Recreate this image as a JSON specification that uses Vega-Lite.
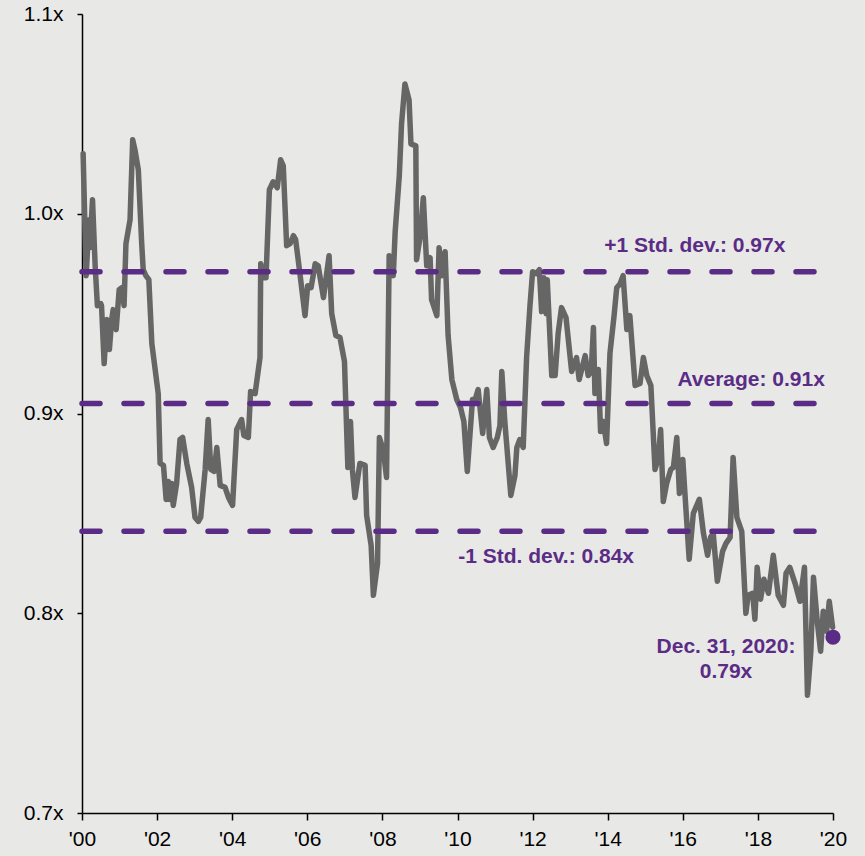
{
  "$schema": "https://vega.github.io/schema/vega-lite/v6.json",
  "width": 751,
  "height": 799,
  "autosize": {"type": "none"},
  "padding": {"left": 82, "top": 14, "right": 32, "bottom": 43},
  "background": "#e8e8e6",
  "config": {"view": {"stroke": null}, "font": "Liberation Sans"},
  "datasets": {
    "series": [
      {"t": 2000.03, "v": 1.030}, {"t": 2000.11, "v": 0.969}, {"t": 2000.19, "v": 0.997}, {"t": 2000.21, "v": 0.983},
      {"t": 2000.28, "v": 1.007}, {"t": 2000.35, "v": 0.974}, {"t": 2000.41, "v": 0.954}, {"t": 2000.50, "v": 0.955},
      {"t": 2000.52, "v": 0.954}, {"t": 2000.59, "v": 0.925}, {"t": 2000.66, "v": 0.947}, {"t": 2000.73, "v": 0.932},
      {"t": 2000.79, "v": 0.947}, {"t": 2000.83, "v": 0.952}, {"t": 2000.91, "v": 0.942}, {"t": 2000.99, "v": 0.962},
      {"t": 2001.06, "v": 0.963}, {"t": 2001.12, "v": 0.954}, {"t": 2001.17, "v": 0.985}, {"t": 2001.28, "v": 0.997},
      {"t": 2001.35, "v": 1.037}, {"t": 2001.41, "v": 1.032}, {"t": 2001.50, "v": 1.022}, {"t": 2001.59, "v": 0.985},
      {"t": 2001.63, "v": 0.972}, {"t": 2001.70, "v": 0.969}, {"t": 2001.78, "v": 0.967}, {"t": 2001.86, "v": 0.935},
      {"t": 2002.03, "v": 0.910}, {"t": 2002.08, "v": 0.875}, {"t": 2002.17, "v": 0.874}, {"t": 2002.24, "v": 0.857},
      {"t": 2002.30, "v": 0.866}, {"t": 2002.34, "v": 0.857}, {"t": 2002.39, "v": 0.865}, {"t": 2002.43, "v": 0.854},
      {"t": 2002.52, "v": 0.865}, {"t": 2002.61, "v": 0.887}, {"t": 2002.68, "v": 0.888}, {"t": 2002.79, "v": 0.875},
      {"t": 2002.92, "v": 0.863}, {"t": 2003.01, "v": 0.848}, {"t": 2003.10, "v": 0.846}, {"t": 2003.16, "v": 0.848},
      {"t": 2003.28, "v": 0.872}, {"t": 2003.36, "v": 0.897}, {"t": 2003.43, "v": 0.872}, {"t": 2003.52, "v": 0.871},
      {"t": 2003.59, "v": 0.883}, {"t": 2003.68, "v": 0.864}, {"t": 2003.81, "v": 0.863}, {"t": 2003.90, "v": 0.858},
      {"t": 2004.01, "v": 0.854}, {"t": 2004.12, "v": 0.892}, {"t": 2004.25, "v": 0.897}, {"t": 2004.31, "v": 0.889},
      {"t": 2004.43, "v": 0.888}, {"t": 2004.49, "v": 0.911}, {"t": 2004.61, "v": 0.910}, {"t": 2004.74, "v": 0.928},
      {"t": 2004.76, "v": 0.975}, {"t": 2004.83, "v": 0.968}, {"t": 2004.90, "v": 0.968}, {"t": 2004.99, "v": 1.012},
      {"t": 2005.09, "v": 1.016}, {"t": 2005.20, "v": 1.013}, {"t": 2005.29, "v": 1.027}, {"t": 2005.36, "v": 1.024},
      {"t": 2005.45, "v": 0.984}, {"t": 2005.54, "v": 0.985}, {"t": 2005.63, "v": 0.989}, {"t": 2005.69, "v": 0.987},
      {"t": 2005.81, "v": 0.969}, {"t": 2005.94, "v": 0.949}, {"t": 2006.01, "v": 0.964}, {"t": 2006.10, "v": 0.963},
      {"t": 2006.21, "v": 0.975}, {"t": 2006.29, "v": 0.974}, {"t": 2006.43, "v": 0.958}, {"t": 2006.58, "v": 0.979},
      {"t": 2006.65, "v": 0.950}, {"t": 2006.76, "v": 0.939}, {"t": 2006.87, "v": 0.938}, {"t": 2006.99, "v": 0.926},
      {"t": 2007.08, "v": 0.873}, {"t": 2007.15, "v": 0.896}, {"t": 2007.20, "v": 0.872}, {"t": 2007.27, "v": 0.858},
      {"t": 2007.40, "v": 0.875}, {"t": 2007.54, "v": 0.874}, {"t": 2007.58, "v": 0.849}, {"t": 2007.70, "v": 0.834},
      {"t": 2007.76, "v": 0.809}, {"t": 2007.87, "v": 0.825}, {"t": 2007.92, "v": 0.888}, {"t": 2008.02, "v": 0.882},
      {"t": 2008.11, "v": 0.868}, {"t": 2008.18, "v": 0.979}, {"t": 2008.29, "v": 0.969}, {"t": 2008.34, "v": 0.991},
      {"t": 2008.45, "v": 1.019}, {"t": 2008.51, "v": 1.045}, {"t": 2008.60, "v": 1.065}, {"t": 2008.71, "v": 1.057},
      {"t": 2008.76, "v": 1.035}, {"t": 2008.89, "v": 1.034}, {"t": 2008.91, "v": 0.977}, {"t": 2009.00, "v": 0.988},
      {"t": 2009.09, "v": 1.008}, {"t": 2009.18, "v": 0.974}, {"t": 2009.27, "v": 0.978}, {"t": 2009.31, "v": 0.957},
      {"t": 2009.45, "v": 0.949}, {"t": 2009.51, "v": 0.983}, {"t": 2009.58, "v": 0.969}, {"t": 2009.67, "v": 0.981},
      {"t": 2009.75, "v": 0.939}, {"t": 2009.85, "v": 0.917}, {"t": 2009.98, "v": 0.907}, {"t": 2010.08, "v": 0.903},
      {"t": 2010.17, "v": 0.896}, {"t": 2010.26, "v": 0.871}, {"t": 2010.40, "v": 0.907}, {"t": 2010.47, "v": 0.907},
      {"t": 2010.55, "v": 0.912}, {"t": 2010.67, "v": 0.890}, {"t": 2010.78, "v": 0.912}, {"t": 2010.85, "v": 0.888},
      {"t": 2010.95, "v": 0.883}, {"t": 2011.06, "v": 0.888}, {"t": 2011.13, "v": 0.894}, {"t": 2011.18, "v": 0.921},
      {"t": 2011.26, "v": 0.896}, {"t": 2011.42, "v": 0.859}, {"t": 2011.53, "v": 0.869}, {"t": 2011.58, "v": 0.883},
      {"t": 2011.66, "v": 0.887}, {"t": 2011.75, "v": 0.883}, {"t": 2011.84, "v": 0.928}, {"t": 2011.93, "v": 0.954},
      {"t": 2012.00, "v": 0.971}, {"t": 2012.09, "v": 0.970}, {"t": 2012.18, "v": 0.972}, {"t": 2012.24, "v": 0.951},
      {"t": 2012.30, "v": 0.968}, {"t": 2012.36, "v": 0.950}, {"t": 2012.39, "v": 0.967}, {"t": 2012.51, "v": 0.919},
      {"t": 2012.60, "v": 0.919}, {"t": 2012.68, "v": 0.940}, {"t": 2012.77, "v": 0.953}, {"t": 2012.89, "v": 0.948},
      {"t": 2013.04, "v": 0.921}, {"t": 2013.17, "v": 0.928}, {"t": 2013.24, "v": 0.917}, {"t": 2013.40, "v": 0.929},
      {"t": 2013.48, "v": 0.919}, {"t": 2013.56, "v": 0.921}, {"t": 2013.62, "v": 0.943}, {"t": 2013.66, "v": 0.910},
      {"t": 2013.75, "v": 0.922}, {"t": 2013.81, "v": 0.891}, {"t": 2013.88, "v": 0.896}, {"t": 2013.97, "v": 0.885},
      {"t": 2014.06, "v": 0.930}, {"t": 2014.17, "v": 0.949}, {"t": 2014.24, "v": 0.963}, {"t": 2014.33, "v": 0.965},
      {"t": 2014.41, "v": 0.969}, {"t": 2014.51, "v": 0.942}, {"t": 2014.59, "v": 0.949}, {"t": 2014.73, "v": 0.914},
      {"t": 2014.86, "v": 0.915}, {"t": 2014.95, "v": 0.928}, {"t": 2015.04, "v": 0.919}, {"t": 2015.15, "v": 0.914},
      {"t": 2015.26, "v": 0.872}, {"t": 2015.35, "v": 0.878}, {"t": 2015.41, "v": 0.892}, {"t": 2015.48, "v": 0.856},
      {"t": 2015.57, "v": 0.865}, {"t": 2015.68, "v": 0.872}, {"t": 2015.75, "v": 0.873}, {"t": 2015.84, "v": 0.888},
      {"t": 2015.91, "v": 0.860}, {"t": 2016.00, "v": 0.877}, {"t": 2016.06, "v": 0.859}, {"t": 2016.17, "v": 0.827},
      {"t": 2016.28, "v": 0.850}, {"t": 2016.44, "v": 0.857}, {"t": 2016.55, "v": 0.840}, {"t": 2016.66, "v": 0.829},
      {"t": 2016.74, "v": 0.838}, {"t": 2016.81, "v": 0.840}, {"t": 2016.92, "v": 0.816}, {"t": 2017.06, "v": 0.831},
      {"t": 2017.15, "v": 0.835}, {"t": 2017.26, "v": 0.838}, {"t": 2017.34, "v": 0.878}, {"t": 2017.44, "v": 0.848},
      {"t": 2017.57, "v": 0.841}, {"t": 2017.68, "v": 0.800}, {"t": 2017.74, "v": 0.809}, {"t": 2017.86, "v": 0.810},
      {"t": 2017.92, "v": 0.797}, {"t": 2017.98, "v": 0.823}, {"t": 2018.07, "v": 0.807}, {"t": 2018.16, "v": 0.817},
      {"t": 2018.28, "v": 0.810}, {"t": 2018.41, "v": 0.829}, {"t": 2018.54, "v": 0.809}, {"t": 2018.68, "v": 0.804},
      {"t": 2018.75, "v": 0.820}, {"t": 2018.85, "v": 0.823}, {"t": 2018.99, "v": 0.815}, {"t": 2019.12, "v": 0.806},
      {"t": 2019.24, "v": 0.823}, {"t": 2019.32, "v": 0.759}, {"t": 2019.41, "v": 0.781}, {"t": 2019.48, "v": 0.818},
      {"t": 2019.58, "v": 0.796}, {"t": 2019.67, "v": 0.781}, {"t": 2019.74, "v": 0.801}, {"t": 2019.80, "v": 0.798},
      {"t": 2019.83, "v": 0.791}, {"t": 2019.90, "v": 0.806}, {"t": 2019.99, "v": 0.793}
    ],
    "levels": [
      {"name": "plus", "v": 0.971, "label": "+1 Std. dev.: 0.97x"},
      {"name": "avg", "v": 0.905, "label": "Average: 0.91x"},
      {"name": "minus", "v": 0.841, "label": "-1 Std. dev.: 0.84x"}
    ],
    "last": [
      {"t": 2020, "v": 0.788, "label": "Dec. 31, 2020:\n0.79x"}
    ]
  },
  "layer": [
    {
      "data": {"name": "series"},
      "mark": {"type": "line", "color": "#666666", "strokeWidth": 5.5, "strokeJoin": "round", "strokeCap": "round"},
      "encoding": {
        "x": {
          "field": "t", "type": "quantitative",
          "scale": {"domain": [2000, 2020], "nice": false, "zero": false},
          "axis": {
            "title": null, "grid": false,
            "values": [2000, 2002, 2004, 2006, 2008, 2010, 2012, 2014, 2016, 2018, 2020],
            "labelExpr": "\"'\" + substring(toString(datum.value), 2, 4)",
            "domainColor": "#000000", "domainWidth": 1.5,
            "tickColor": "#000000", "tickWidth": 1.5, "tickSize": 7,
            "labelFontSize": 21, "labelColor": "#000000", "labelPadding": 8,
            "labelFlush": false, "labelOverlap": false
          }
        },
        "y": {
          "field": "v", "type": "quantitative",
          "scale": {"domain": [0.7, 1.1], "nice": false, "zero": false},
          "axis": {
            "title": null, "grid": false,
            "values": [0.7, 0.8, 0.9, 1.0, 1.1],
            "labelExpr": "format(datum.value, '.1f') + 'x'",
            "domainColor": "#000000", "domainWidth": 1.5,
            "tickColor": "#000000", "tickWidth": 1.5, "tickSize": 5,
            "labelFontSize": 21, "labelColor": "#000000", "labelPadding": 14,
            "labelFlush": false, "labelOverlap": false
          }
        }
      }
    },
    {
      "data": {"name": "levels"},
      "mark": {"type": "rule", "color": "#5b2c86", "strokeWidth": 5.5, "strokeDash": [18, 24], "strokeCap": "round"},
      "encoding": {
        "x": {"datum": 2000},
        "x2": {"datum": 2019.55},
        "y": {"field": "v", "type": "quantitative"}
      }
    },
    {
      "data": {"name": "levels"},
      "transform": [{"filter": "datum.name === 'plus'"}],
      "mark": {"type": "text", "color": "#5b2c86", "fontSize": 21, "fontWeight": "bold", "align": "center", "baseline": "alphabetic", "dy": -20},
      "encoding": {
        "x": {"datum": 2016.32},
        "y": {"field": "v", "type": "quantitative"},
        "text": {"field": "label"}
      }
    },
    {
      "data": {"name": "levels"},
      "transform": [{"filter": "datum.name === 'avg'"}],
      "mark": {"type": "text", "color": "#5b2c86", "fontSize": 21, "fontWeight": "bold", "align": "center", "baseline": "alphabetic", "dy": -18},
      "encoding": {
        "x": {"datum": 2017.82},
        "y": {"field": "v", "type": "quantitative"},
        "text": {"field": "label"}
      }
    },
    {
      "data": {"name": "levels"},
      "transform": [{"filter": "datum.name === 'minus'"}],
      "mark": {"type": "text", "color": "#5b2c86", "fontSize": 21, "fontWeight": "bold", "align": "center", "baseline": "alphabetic", "dy": 32},
      "encoding": {
        "x": {"datum": 2012.36},
        "y": {"field": "v", "type": "quantitative"},
        "text": {"field": "label"}
      }
    },
    {
      "data": {"name": "last"},
      "mark": {"type": "circle", "color": "#5b2c86", "size": 230, "opacity": 1},
      "encoding": {
        "x": {"field": "t", "type": "quantitative"},
        "y": {"field": "v", "type": "quantitative"}
      }
    },
    {
      "data": {"name": "last"},
      "mark": {"type": "text", "color": "#5b2c86", "fontSize": 21, "fontWeight": "bold", "align": "center", "baseline": "alphabetic", "dx": -107, "dy": 16, "lineBreak": "\n", "lineHeight": 25},
      "encoding": {
        "x": {"field": "t", "type": "quantitative"},
        "y": {"field": "v", "type": "quantitative"},
        "text": {"field": "label"}
      }
    }
  ]
}
